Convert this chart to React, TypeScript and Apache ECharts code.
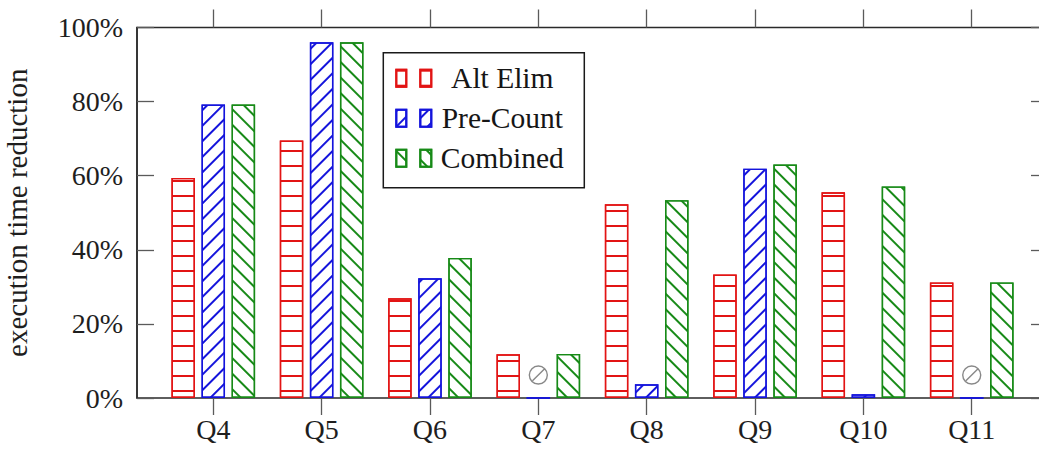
import React, { useEffect, useRef } from "react";
import * as echarts from "echarts";

// ---- data ----
const categories = ["Q4", "Q5", "Q6", "Q7", "Q8", "Q9", "Q10", "Q11"];
const altElim = [59.4, 69.5, 26.9, 11.8, 52.3, 33.3, 55.5, 31.2];
const preCount: (number | null)[] = [79.2, 96.0, 32.3, null, 3.7, 61.9, 1.0, null];
const combined = [79.2, 96.0, 37.8, 11.9, 53.4, 63.0, 57.1, 31.2];
const seriesNames = ["Alt Elim", "Pre-Count", "Combined"];
const yTicks = [0, 20, 40, 60, 80, 100];
const yTitle = "execution time reduction";

// ---- styles ----
const FONT = "'Liberation Serif', 'Times New Roman', serif";
const RED = "#e21414";
const BLUE = "#1414dc";
const GREEN = "#178a17";
const AXIS = "#2a2a2a";
const TICK = "#5a5a5a";
const MISSING_MARK_Y = 6.2;
const SLASH_SYMBOL =
  "path://M17,8.5A8.5,8.5,0,1,1,0,8.5A8.5,8.5,0,1,1,17,8.5ZM3,14L14,3";
const LEGEND_ICON = "path://M0,0H10V17H0ZM24,0H35V17H24Z";

function decal(color: string, rotation: number, gap: number) {
  return {
    symbol: "rect",
    symbolSize: 1,
    dashArrayX: [1, 0],
    dashArrayY: [1.1, gap],
    rotation,
    color,
  };
}

export default function App() {
  const ref = useRef<HTMLDivElement>(null);

  useEffect(() => {
    if (!ref.current) return;
    const chart = echarts.init(ref.current, null, { renderer: "svg" });
    const yMin = yTicks[0];
    const yMax = yTicks[yTicks.length - 1];
    const yInterval = yTicks[1] - yTicks[0];

    const missing = categories.filter((_, i) => preCount[i] === null);

    const barBase = {
      type: "bar",
      xAxisIndex: 1,
      yAxisIndex: 2,
      barWidth: 23.5,
      barGap: "28%",
    };

    const option: any = {
      animation: false,
      backgroundColor: "#ffffff",
      grid: [
        {
          left: 137,
          top: 27.5,
          width: 911,
          height: 370.5,
          show: true,
          borderColor: AXIS,
          borderWidth: 1.5,
          backgroundColor: "transparent",
          outerBoundsMode: "none",
        },
        {
          left: 159.1,
          top: 27.5,
          width: 866.8,
          height: 370.5,
          outerBoundsMode: "none",
        },
      ],
      xAxis: [
        { gridIndex: 0, type: "value", min: 0, max: 1, show: false },
        {
          gridIndex: 1,
          type: "category",
          data: categories,
          position: "bottom",
          axisLine: { show: false },
          axisTick: {
            show: true,
            alignWithLabel: true,
            length: 17,
            lineStyle: { color: TICK, width: 1.3 },
          },
          axisLabel: {
            fontFamily: FONT,
            fontSize: 28,
            color: "#1e1e1e",
            margin: 17,
          },
          splitLine: { show: false },
        },
        {
          gridIndex: 1,
          type: "category",
          data: categories,
          position: "top",
          axisLine: { show: false },
          axisTick: {
            show: true,
            alignWithLabel: true,
            length: 18,
            lineStyle: { color: TICK, width: 1.3 },
          },
          axisLabel: { show: false },
          splitLine: { show: false },
        },
      ],
      yAxis: [
        {
          gridIndex: 0,
          type: "value",
          position: "left",
          min: yMin,
          max: yMax,
          interval: yInterval,
          axisLine: { show: true, lineStyle: { color: AXIS, width: 1.5 } },
          axisTick: {
            show: true,
            inside: true,
            length: 17,
            lineStyle: { color: TICK, width: 1.3 },
          },
          axisLabel: {
            formatter: "{value}%",
            fontFamily: FONT,
            fontSize: 28,
            color: "#1e1e1e",
            margin: 14,
          },
          splitLine: { show: false },
          name: yTitle,
          nameLocation: "middle",
          nameGap: 106,
          nameTextStyle: { fontFamily: FONT, fontSize: 29, color: "#1e1e1e" },
        },
        {
          gridIndex: 0,
          type: "value",
          position: "right",
          min: yMin,
          max: yMax,
          interval: yInterval,
          axisLine: { show: false },
          axisTick: {
            show: true,
            inside: true,
            length: 17,
            lineStyle: { color: TICK, width: 1.3 },
          },
          axisLabel: { show: false },
          splitLine: { show: false },
        },
        { gridIndex: 1, type: "value", min: yMin, max: yMax, show: false },
      ],
      legend: {
        data: seriesNames,
        orient: "vertical",
        left: 383.3,
        top: 52.7,
        padding: [10.5, 16, 14.5, 12],
        itemGap: 10,
        itemWidth: 35,
        itemHeight: 17,
        icon: LEGEND_ICON,
        borderColor: "#1a1a1a",
        borderWidth: 1.5,
        borderRadius: 0,
        backgroundColor: "#ffffff",
        selectedMode: false,
        formatter: (n: string) => `{c|${n}}`,
        textStyle: {
          fontFamily: FONT,
          fontSize: 29.5,
          color: "#161616",
          lineHeight: 30,
          rich: {
            c: {
              width: 132,
              align: "center",
              fontFamily: FONT,
              fontSize: 29.5,
              lineHeight: 30,
              color: "#161616",
            },
          },
        },
      },
      series: [
        {
          ...barBase,
          name: seriesNames[0],
          data: altElim,
          itemStyle: {
            color: "rgba(255,255,255,0)",
            borderColor: RED,
            borderWidth: 1.4,
            decal: decal(RED, 0, 12.3),
          },
        },
        {
          ...barBase,
          name: seriesNames[1],
          data: preCount.map((v) => (v === null ? 0 : v)),
          itemStyle: {
            color: "rgba(255,255,255,0)",
            borderColor: BLUE,
            borderWidth: 1.4,
            decal: decal(BLUE, -Math.PI / 4, 8.4),
          },
        },
        {
          ...barBase,
          name: seriesNames[2],
          data: combined,
          itemStyle: {
            color: "rgba(255,255,255,0)",
            borderColor: GREEN,
            borderWidth: 1.4,
            decal: decal(GREEN, Math.PI / 4, 8.4),
          },
        },
        {
          type: "scatter",
          xAxisIndex: 1,
          yAxisIndex: 2,
          data: missing.map((c) => [c, MISSING_MARK_Y]),
          symbol: SLASH_SYMBOL,
          symbolSize: 18,
          silent: true,
          itemStyle: {
            color: "rgba(0,0,0,0)",
            borderColor: "#6a6a6a",
            borderWidth: 1.4,
          },
        },
      ],
    };

    chart.setOption(option);
    return () => chart.dispose();
  }, []);

  return (
    <div
      ref={ref}
      style={{ position: "absolute", left: 0, top: 0, width: 1039, height: 451 }}
    />
  );
}
